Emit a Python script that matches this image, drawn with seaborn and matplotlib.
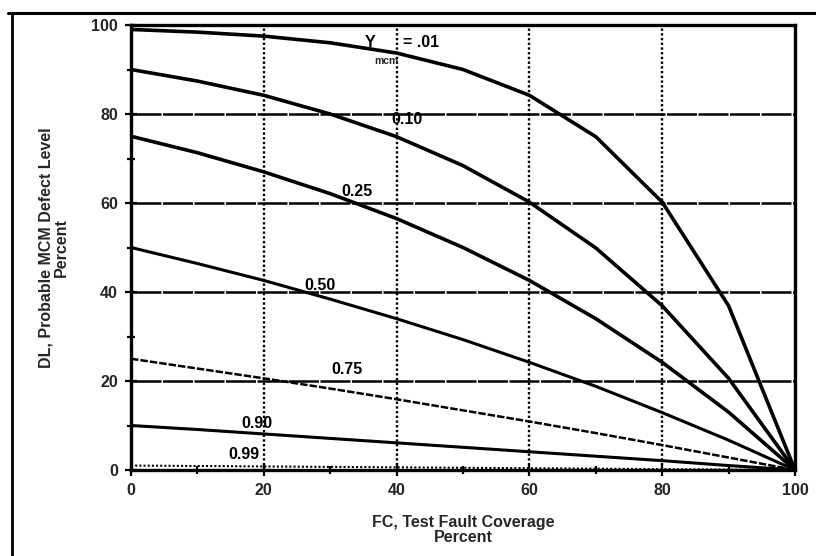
import matplotlib
matplotlib.use("Agg")
import matplotlib.pyplot as plt
from matplotlib.lines import Line2D
from matplotlib.ticker import MultipleLocator
import seaborn as sns
import pandas as pd

# ---- data ----
fault_coverage = [0, 10, 20, 30, 40, 50, 60, 70, 80, 90, 100]
dl_y001 = [99.0, 98.4, 97.5, 96.0, 93.7, 90.0, 84.2, 74.9, 60.2, 36.9, 0.0]
dl_y010 = [90.0, 87.4, 84.2, 80.0, 74.9, 68.4, 60.2, 49.9, 36.9, 20.6, 0.0]
dl_y025 = [75.0, 71.3, 67.0, 62.1, 56.5, 50.0, 42.6, 34.0, 24.2, 13.0, 0.0]
dl_y050 = [50.0, 46.4, 42.6, 38.4, 34.0, 29.3, 24.2, 18.8, 12.9, 6.7, 0.0]
dl_y075 = [25.0, 22.8, 20.6, 18.3, 15.9, 13.4, 10.9, 8.3, 5.6, 2.8, 0.0]
dl_y090 = [10.0, 9.1, 8.1, 7.1, 6.1, 5.1, 4.1, 3.1, 2.1, 1.0, 0.0]
dl_y099 = [1.0, 0.9, 0.8, 0.7, 0.6, 0.5, 0.4, 0.3, 0.2, 0.1, 0.0]
yields = ["0.01", "0.10", "0.25", "0.50", "0.75", "0.90", "0.99"]
x_ticks = [0, 20, 40, 60, 80, 100]
y_ticks = [0, 20, 40, 60, 80, 100]

series = [dl_y001, dl_y010, dl_y025, dl_y050, dl_y075, dl_y090, dl_y099]
rows = []
for yl, vals in zip(yields, series):
    for fc, v in zip(fault_coverage, vals):
        rows.append({"FC": fc, "DL": v, "Y": yl})
df = pd.DataFrame(rows)

sns.set_theme(style="white")
plt.rcParams["font.family"] = ["Liberation Sans", "DejaVu Sans"]
plt.rcParams["font.weight"] = "bold"

fig = plt.figure(figsize=(8.16, 5.56), dpi=100)
ax = fig.add_axes([131 / 816, 1 - 470 / 556, (795 - 131) / 816, (470 - 25) / 556])

styles = {
    "0.01": dict(lw=2.6, ls="-"),
    "0.10": dict(lw=2.6, ls="-"),
    "0.25": dict(lw=2.6, ls="-"),
    "0.50": dict(lw=2.2, ls="-"),
    "0.75": dict(lw=1.8, ls=(0, (3, 0.8))),
    "0.90": dict(lw=2.2, ls="-"),
    "0.99": dict(lw=1.5, ls=(0, (1, 1))),
}
for yl in yields:
    sub = df[df["Y"] == yl]
    sns.lineplot(data=sub, x="FC", y="DL", ax=ax, color="black",
                 linewidth=styles[yl]["lw"], linestyle=styles[yl]["ls"],
                 legend=False, zorder=3)

ax.set_xlim(0, 100)
ax.set_ylim(0, 100)
ax.set_xticks(x_ticks)
ax.set_yticks(y_ticks)
ax.xaxis.set_minor_locator(MultipleLocator(10))
ax.yaxis.set_minor_locator(MultipleLocator(10))
ax.tick_params(axis="both", which="both", direction="inout", color="black",
               width=1.6, bottom=True, left=True)
ax.tick_params(axis="both", which="major", length=9, labelsize=11.5, pad=5)
ax.tick_params(axis="both", which="minor", length=6)
for lab in ax.get_xticklabels() + ax.get_yticklabels():
    lab.set_fontweight("bold")

# grid
for g in [20, 40, 60, 80]:
    ax.axvline(g, color="black", lw=1.7, ls=(0, (1, 1)), zorder=1)
    ax.axhline(g, color="black", lw=1.8, ls=(0, (12, 0.6)), zorder=1)

for s in ax.spines.values():
    s.set_color("black")
    s.set_linewidth(2.4)

ax.set_xlabel("FC, Test Fault Coverage\nPercent", fontsize=11.5, fontweight="bold",
              labelpad=12, linespacing=1.05)
ax.set_ylabel("DL, Probable MCM Defect Level\nPercent", fontsize=11.5, fontweight="bold",
              labelpad=16, linespacing=1.05)

# curve labels
kw = dict(fontsize=11.5, fontweight="bold", color="black", zorder=4)
ax.text(36.0, 94.4, "Y", ha="center", va="bottom", **kw)
ax.text(38.5, 93.0, "mcm", ha="center", va="top", fontsize=7.5, fontweight="bold")
ax.text(41.0, 94.4, "= .01", ha="left", va="bottom", **kw)
ax.text(41.5, 77.0, "0.10", ha="center", va="bottom", **kw)
ax.text(34.0, 60.8, "0.25", ha="center", va="bottom", **kw)
ax.text(28.5, 39.8, "0.50", ha="center", va="bottom", **kw)
ax.text(32.5, 20.8, "0.75", ha="center", va="bottom", **kw)
ax.text(19.0, 8.8, "0.90", ha="center", va="bottom", **kw)
ax.text(17.0, 1.8, "0.99", ha="center", va="bottom", **kw)

# outer frame of the figure
fig.add_artist(Line2D([8 / 816, 1.0], [1 - 13 / 556, 1 - 13 / 556],
                      transform=fig.transFigure, color="black", lw=2.2))
fig.add_artist(Line2D([12 / 816, 12 / 816], [0.0, 1 - 13 / 556],
                      transform=fig.transFigure, color="black", lw=2.0))

fig.savefig("out.png", dpi=100)
